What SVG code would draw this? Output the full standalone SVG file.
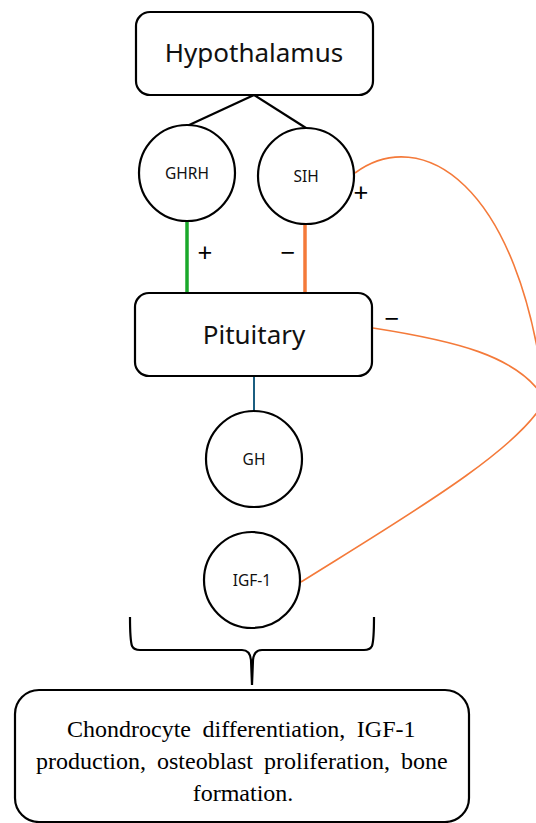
<svg xmlns="http://www.w3.org/2000/svg" width="536" height="823" viewBox="0 0 536 823">
<style>
.box{fill:#fff;stroke:#000;stroke-width:2.2}
.circ{fill:#fff;stroke:#000;stroke-width:2.2}
.big{font-family:"Noto Sans","Liberation Sans",sans-serif;font-size:26px;fill:#111;text-anchor:middle}
.small{font-family:"Noto Sans","Liberation Sans",sans-serif;font-size:15.5px;fill:#111;text-anchor:middle}
.sign{font-family:"Noto Sans","Liberation Sans",sans-serif;font-size:26px;fill:#000;text-anchor:middle}
.serif{font-family:"Liberation Serif",serif;font-size:24px;fill:#000}
.fb{fill:none;stroke:#f47a3a;stroke-width:1.6}
</style>
<rect width="536" height="823" fill="#fff"/>
<g id="connectors">
<line x1="254" y1="95" x2="187" y2="126" stroke="#000" stroke-width="2.2"/>
<line x1="254" y1="95" x2="306" y2="128" stroke="#000" stroke-width="2.2"/>
<line x1="187" y1="221" x2="187" y2="294" stroke="#1aa82a" stroke-width="3.5"/>
<line x1="305" y1="224" x2="305" y2="294" stroke="#f47a3a" stroke-width="3.5"/>
<line x1="254" y1="376" x2="254" y2="411" stroke="#1b5e80" stroke-width="2"/>
<path class="fb" d="M301,582 C400,520 520,450 545,400"/>
<path class="fb" d="M373,328 C450,340 520,355 545,400"/>
<path class="fb" d="M355,173 C420,125 520,180 545,400"/>
<text class="sign" x="205" y="262">+</text>
<text class="sign" x="288" y="262">−</text>
<text class="sign" x="361" y="202">+</text>
<text class="sign" x="392" y="328">−</text>
<path d="M130,617 C130,630 130,640 132,646 Q134,650 140,650 L242,650 Q250,650 251,660 L252,685 L253,660 Q254,650 262,650 L364,650 Q370,650 372,646 C374,640 374,630 374,617" fill="none" stroke="#000" stroke-width="2.2"/>
</g>
<g id="hypothalamus">
<rect class="box" x="136" y="12" width="237" height="83" rx="14"/>
<text class="big" x="254" y="62">Hypothalamus</text>
</g>
<g id="ghrh">
<circle class="circ" cx="187" cy="173" r="48"/>
<text class="small" x="187" y="179">GHRH</text>
</g>
<g id="sih">
<circle class="circ" cx="306" cy="176" r="48"/>
<text class="small" x="306" y="182">SIH</text>
</g>
<g id="pituitary">
<rect class="box" x="135" y="293" width="237" height="83" rx="14"/>
<text class="big" x="254" y="344">Pituitary</text>
</g>
<g id="gh">
<circle class="circ" cx="254" cy="459" r="48"/>
<text class="small" x="254" y="465">GH</text>
</g>
<g id="igf1">
<circle class="circ" cx="252" cy="580" r="48"/>
<text class="small" x="252" y="586">IGF-1</text>
</g>
<g id="effects">
<rect class="box" x="15" y="690" width="454" height="132" rx="24"/>
<text class="serif" x="67" y="737" word-spacing="5.5">Chondrocyte differentiation, IGF-1</text>
<text class="serif" x="36" y="769" word-spacing="5">production, osteoblast proliferation, bone</text>
<text class="serif" x="243" y="801" text-anchor="middle">formation.</text>
</g>
</svg>
